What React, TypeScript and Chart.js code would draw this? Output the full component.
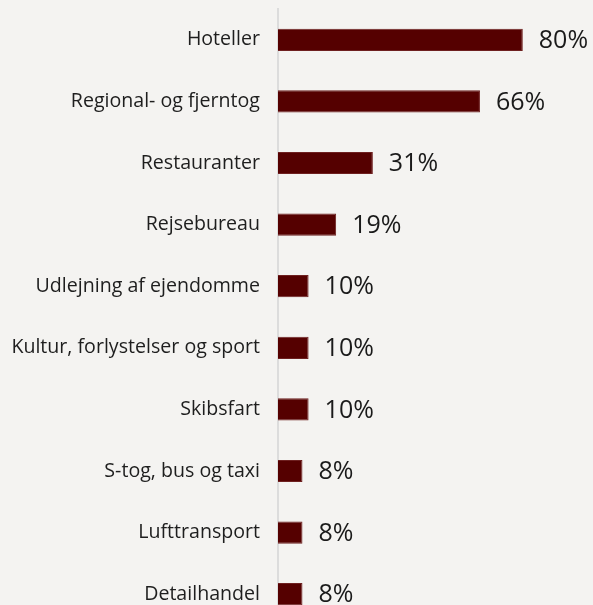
import React, { useEffect, useRef } from "react";
import { Chart, registerables } from "chart.js";

Chart.register(...registerables);

const categories = [
  "Hoteller",
  "Regional- og fjerntog",
  "Restauranter",
  "Rejsebureau",
  "Udlejning af ejendomme",
  "Kultur, forlystelser og sport",
  "Skibsfart",
  "S-tog, bus og taxi",
  "Lufttransport",
  "Detailhandel",
];
const values = [80, 66, 31, 19, 10, 10, 10, 8, 8, 8];
const valueLabels = ["80%", "66%", "31%", "19%", "10%", "10%", "10%", "8%", "8%", "8%"];

const FONT = "'Open Sans', sans-serif";
const BG = "#f4f3f1";

export default function App() {
  const ref = useRef<HTMLCanvasElement>(null);
  useEffect(() => {
    if (!ref.current) return;
    const valuePlugin = {
      id: "valueLabels",
      afterDatasetsDraw(chart: any) {
        const ctx = chart.ctx;
        const meta = chart.getDatasetMeta(0);
        ctx.save();
        ctx.font = `25px ${FONT}`;
        ctx.fillStyle = "#1a1a1a";
        ctx.textAlign = "left";
        ctx.textBaseline = "middle";
        meta.data.forEach((bar: any, i: number) => {
          ctx.fillText(valueLabels[i], bar.x + 16, bar.y + 1);
        });
        ctx.restore();
      },
    };
    const chart = new Chart(ref.current, {
      type: "bar",
      data: {
        labels: categories,
        datasets: [
          {
            data: values,
            backgroundColor: "#550000",
            borderColor: "#6e2020",
            borderWidth: 1,
            barPercentage: 0.36,
            categoryPercentage: 1,
          },
        ],
      },
      options: {
        indexAxis: "y",
        animation: false,
        responsive: false,
        maintainAspectRatio: false,
        layout: { padding: { top: 9, right: 9, bottom: 1, left: 0 } },
        plugins: {
          legend: { display: false },
          tooltip: { enabled: false },
        },
        scales: {
          x: {
            display: false,
            min: 0,
            max: 100,
          },
          y: {
            afterFit(scale: any) {
              scale.width = 278;
              scale.paddingTop = 0;
              scale.paddingBottom = 0;
            },
            grid: { display: false, drawTicks: false },
            border: { display: true, color: "#dcdcdc", width: 2 },
            ticks: {
              color: "#1e1e1e",
              font: { family: FONT, size: 19.6 },
              padding: 18,
            },
          },
        },
      },
      plugins: [
        valuePlugin,
        {
          id: "bg",
          beforeDraw(c: any) {
            const ctx = c.ctx;
            ctx.save();
            ctx.fillStyle = BG;
            ctx.fillRect(0, 0, c.width, c.height);
            ctx.restore();
          },
        },
      ],
    });
    return () => chart.destroy();
  }, []);
  return (
    <div
      style={{
        position: "fixed",
        top: 0,
        left: 0,
        width: 593,
        height: 605,
        overflow: "hidden",
        background: BG,
      }}
    >
      <canvas ref={ref} width={593} height={626} style={{ display: "block" }} />
    </div>
  );
}
